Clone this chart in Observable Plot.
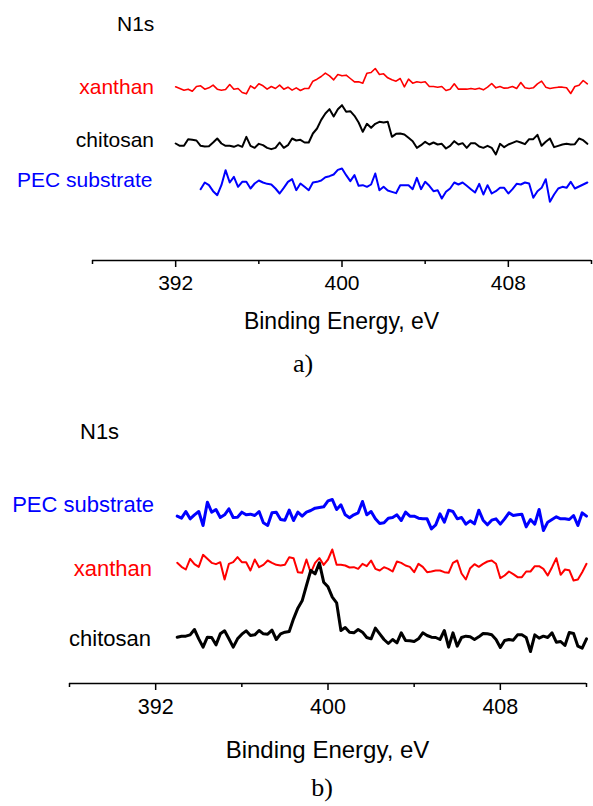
<!DOCTYPE html>
<html><head><meta charset="utf-8">
<script src="https://cdn.jsdelivr.net/npm/d3@7"></script>
<script src="https://cdn.jsdelivr.net/npm/@observablehq/plot@0.6"></script>
<style>
body{margin:0;background:#fff;}
#page{position:relative;width:593px;height:806px;overflow:hidden;font-family:"Liberation Sans",Arial,sans-serif;color:#000;background:#fff;}
.abs{position:absolute;white-space:nowrap;line-height:1;}
.cap{font-family:"Liberation Serif","Times New Roman",serif;font-size:26px;}
</style></head><body>
<div id="page">
  <div id="plotA" class="abs" style="left:0;top:0"></div>
  <div id="plotB" class="abs" style="left:0;top:390px"></div>

  <div class="abs" style="left:117px;top:13.2px;font-size:21px">N1s</div>
  <div class="abs" style="right:439px;top:75.7px;font-size:21px;color:#ff0000">xanthan</div>
  <div class="abs" style="right:439px;top:128.7px;font-size:21px;color:#000">chitosan</div>
  <div class="abs" style="right:440.5px;top:169.2px;font-size:21px;color:#0000ff">PEC substrate</div>
  <div class="abs" style="left:92px;width:499px;text-align:center;top:310.2px;font-size:23px">Binding Energy, eV</div>
  <div class="abs cap" style="left:280px;width:46px;text-align:center;top:350.7px">a)</div>

  <div class="abs" style="left:80px;top:421.2px;font-size:22px">N1s</div>
  <div class="abs" style="right:439px;top:493.7px;font-size:22px;color:#0000ff">PEC substrate</div>
  <div class="abs" style="right:441px;top:557.5px;font-size:22px;color:#ff0000">xanthan</div>
  <div class="abs" style="right:442px;top:627.7px;font-size:22px;color:#000">chitosan</div>
  <div class="abs" style="left:69px;width:517px;text-align:center;top:738px;font-size:24px">Binding Energy, eV</div>
  <div class="abs cap" style="left:299px;width:46px;text-align:center;top:774.7px">b)</div>
</div>
<script>
// ---- data (intensity, a.u., 0.2 eV grid) ----
const STEP = 0.2;
const majorTicks = [392, 400, 408];
const minorTicks = [388, 396, 404, 412];

// panel a)
const aStartXanthan = 392.0, aStartChitosan = 392.0, aStartPEC = 393.2;
const aXanthan = [15,10,5,8,2,16,18,8,12,20,8,5,7,22,8,10,-2,-6,18,10,24,18,8,16,10,20,8,14,5,12,4,10,10,32,
  38,46,56,48,36,52,48,50,40,30,30,26,56,58,70,52,54,42,36,32,40,15,38,26,30,28,30,16,16,14,16,4,8,24,
  8,8,8,10,8,11,6,14,25,12,16,11,12,16,10,28,12,10,12,24,32,14,10,12,14,14,12,-5,16,20,34,24];
const aChitosan = [15,8,8,28,26,24,8,6,7,18,30,15,8,8,5,10,5,35,8,2,14,10,2,-2,2,18,2,10,30,24,26,18,18,45,
  60,86,105,118,96,118,130,110,112,98,78,50,74,62,74,80,78,80,35,44,45,42,32,22,2,10,20,12,18,12,14,0,8,22,
  12,16,2,16,16,6,2,8,2,-18,14,4,12,17,22,18,13,28,28,41,8,20,30,4,8,12,14,12,13,30,25,14];
const aPEC = [-2,18,10,-8,-20,10,55,18,35,5,20,20,0,15,24,18,14,12,0,-15,2,20,28,-5,15,5,-5,18,
  20,24,34,37,42,56,60,40,22,40,8,10,5,12,45,-5,5,-6,-10,-14,10,10,10,-2,32,-2,20,8,-8,-5,-30,-10,0,18,
  12,18,8,-2,-12,14,-18,10,-15,-8,2,2,-15,-2,14,12,18,15,-28,-8,2,28,-40,-18,0,5,2,20,0,6,12,18];
const aOffsets = {xanthan: 506, chitosan: 336, pec: 216};

// panel b)
const bStart = 393.0;
const bPEC = [8,2,22,0,12,22,-20,50,20,28,4,12,30,4,5,20,12,14,10,22,-12,-20,18,20,-2,-4,26,-5,20,8,20,25,
  32,34,36,54,58,28,42,12,3,12,18,52,12,22,0,-14,-12,2,4,12,-5,20,8,8,2,0,0,-30,-18,15,-10,26,22,
  0,4,-16,-6,-15,26,-4,-18,-4,0,-16,0,18,10,12,14,-24,-2,-16,28,-35,-10,-2,6,0,0,-2,10,-20,18,8];
const bXanthan = [18,6,-2,30,14,6,42,30,18,14,20,-32,15,20,35,20,20,-5,28,5,12,25,18,12,10,12,35,32,-10,-12,28,-12,
  18,32,12,28,58,12,12,10,4,5,0,15,8,25,0,-5,5,0,-8,22,18,10,6,-10,15,6,-10,-8,-5,-5,-10,-12,18,
  25,-14,-32,2,14,6,15,22,25,15,-28,-20,-8,-16,-25,-25,-8,-8,8,8,0,-20,5,32,-18,-2,-4,-35,-32,-10,15];
const bChitosan = [5,8,8,12,28,0,-25,5,4,-18,15,24,0,-25,0,14,24,10,12,25,15,14,26,-2,15,20,22,60,92,114,160,205,
  195,228,170,156,125,108,25,34,20,18,28,20,4,0,32,15,-2,-14,-2,-12,18,-5,-6,-8,0,18,10,5,4,-2,25,-25,18,
  -22,4,8,6,-2,6,16,15,12,-2,-26,-5,-2,-4,12,12,4,-38,12,2,8,4,18,-10,-8,-20,19,16,-22,-28,0];
const bOffsets = {pec: 494, xanthan: 344, chitosan: 134};

// ---- build ----
function spectrum(values, start, offset) {
  return values.map((v, i) => ({E: +(start + i * STEP).toFixed(2), I: v + offset}));
}

function panel({series, frameH, yMax, marginLeft, marginRight, tickFont}) {
  const marginBottom = 40;
  return Plot.plot({
    width: 593,
    height: frameH + marginBottom,
    marginLeft, marginRight, marginTop: 0, marginBottom,
    x: {domain: [388, 412]},
    y: {domain: [0, yMax], axis: null},
    style: {fontFamily: "'Liberation Sans', Arial, sans-serif", color: "black", background: "transparent", overflow: "visible"},
    marks: [
      Plot.ruleY([0], {strokeWidth: 1.5}),
      Plot.axisX({ticks: majorTicks, tickSize: 7, tickPadding: 8, fontSize: tickFont, strokeWidth: 1.5, label: null}),
      Plot.axisX({ticks: minorTicks, tickSize: 4, tickFormat: () => "", strokeWidth: 1.5, label: null}),
      ...series.map(s => Plot.line(s.data, {x: "E", y: "I", stroke: s.color, strokeWidth: s.width}))
    ]
  });
}

document.getElementById("plotA").appendChild(panel({
  frameH: 260, yMax: 780, marginLeft: 92, marginRight: 2, tickFont: 21,
  series: [
    {data: spectrum(aXanthan, aStartXanthan, aOffsets.xanthan), color: "#ff0000", width: 1.6},
    {data: spectrum(aChitosan, aStartChitosan, aOffsets.chitosan), color: "#000000", width: 2},
    {data: spectrum(aPEC, aStartPEC, aOffsets.pec), color: "#0000ff", width: 2}
  ]
}));

document.getElementById("plotB").appendChild(panel({
  frameH: 293, yMax: 879, marginLeft: 69, marginRight: 7, tickFont: 21.5,
  series: [
    {data: spectrum(bPEC, bStart, bOffsets.pec), color: "#0000ff", width: 3},
    {data: spectrum(bXanthan, bStart, bOffsets.xanthan), color: "#ff0000", width: 2},
    {data: spectrum(bChitosan, bStart, bOffsets.chitosan), color: "#000000", width: 3}
  ]
}));
</script>
</body></html>
